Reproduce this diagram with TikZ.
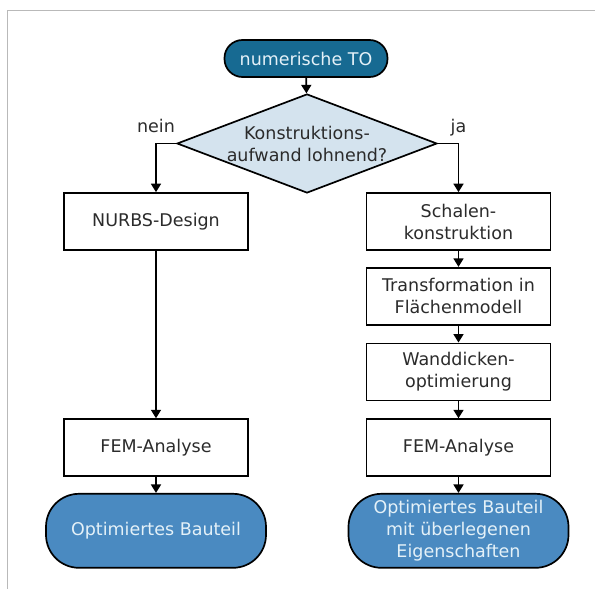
\documentclass[tikz,border=0pt]{standalone}
\usepackage{fontspec}
\setmainfont{DejaVu Sans}
\usepackage{tikz}
\usetikzlibrary{positioning}
\usetikzlibrary{shapes.geometric}
\usetikzlibrary{arrows.meta}
\definecolor{termblue}{HTML}{176A92}
\definecolor{endblue}{HTML}{4A8AC1}
\definecolor{decblue}{HTML}{D4E3EE}
\definecolor{pilltext}{HTML}{E4F1F8}
\definecolor{boxtext}{HTML}{2B2B2B}

\begin{document}
\begin{tikzpicture}[x=1pt,y=-1pt]
			\tikzstyle{FontStyle}     = [font=\fontsize{17.5}{22}\selectfont, text=boxtext, align=center]
			\tikzstyle{LabelStyle}    = [FontStyle, text height=12pt, text depth=3pt, above=4pt]
			\tikzstyle{TermStyle}     = [FontStyle, rectangle, rounded corners=18pt, draw, line width=1.7pt, fill=termblue, text=pilltext, minimum width=163pt, minimum height=37pt]
			\tikzstyle{DecisionStyle} = [FontStyle, diamond, draw, line width=1.7pt, fill=decblue, aspect=2.6, inner sep=0pt, minimum width=260pt, minimum height=99pt]
			\tikzstyle{BoxStyle}      = [FontStyle, rectangle, draw, line width=1.7pt, fill=white, minimum width=184pt, minimum height=57pt]
			\tikzstyle{EndStyle}      = [FontStyle, rectangle, rounded corners=33pt, draw, line width=1.7pt, fill=endblue, text=pilltext, minimum width=220pt, minimum height=74pt, inner sep=1pt]
			\tikzstyle{EdgeStyle}     = [-{Triangle[length=8.5pt,width=10pt]}, line width=1.7pt]
			\useasboundingbox (0,0) rectangle (595,589);
			\draw[gray!55, line width=1.2pt] (7.5,589) -- (7.5,10.5) -- (595,10.5);
			\node[TermStyle] (start) at (306,58.5) {numerische TO};
			\node[DecisionStyle] (dec) at (307,143.5) {Konstruktions-\\aufwand lohnend?};
			\node[BoxStyle] (nurbs) at (156,221.5) {NURBS-Design};
			\node[BoxStyle] (schale) at (458.5,221.5) {Schalen-\\konstruktion};
				\node[BoxStyle, below=16pt of schale] (trafo) {Transformation in\\Flächenmodell};
				\node[BoxStyle, below=17pt of trafo] (wand) {Wanddicken-\\optimierung};
				\node[BoxStyle, below=17pt of wand] (fem2) {FEM-Analyse};
				\node[BoxStyle] (fem1) at (nurbs |- fem2) {FEM-Analyse};
				\node[EndStyle, below=16pt of fem1] (end1) {Optimiertes Bauteil};
				\node[EndStyle, below=16pt of fem2] (end2) {Optimiertes Bauteil\\mit überlegenen\\Eigenschaften};
			\draw[EdgeStyle] (start) -- (dec);
			\draw[EdgeStyle] (dec.west) -| node[LabelStyle, pos=0.5] (nein) {nein} (nurbs);
			\draw[EdgeStyle] (dec.east) -| node[LabelStyle, pos=0.5] (ja) {ja} (schale);
			\draw[EdgeStyle] (nurbs) -- (fem1);
			\draw[EdgeStyle] (fem1) -- (end1);
			\draw[EdgeStyle] (schale) -- (trafo);
			\draw[EdgeStyle] (trafo) -- (wand);
			\draw[EdgeStyle] (wand) -- (fem2);
			\draw[EdgeStyle] (fem2) -- (end2);
		\end{tikzpicture}
\end{document}
